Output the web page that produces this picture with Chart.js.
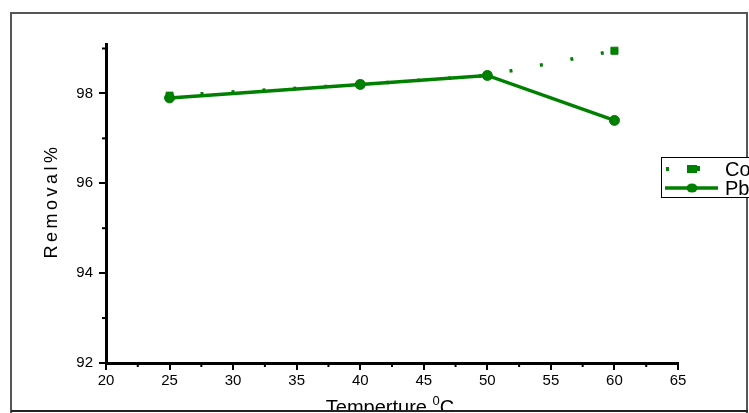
<!DOCTYPE html>
<html>
<head>
<meta charset="utf-8">
<script src="https://cdn.jsdelivr.net/npm/chart.js@4.4.1/dist/chart.umd.min.js"></script>
<style>
  html, body { margin: 0; padding: 0; background: #fff; }
  canvas { display: block; }
</style>
</head>
<body>
<canvas id="chart" width="749" height="413"></canvas>
<script>
// removal % against temperature
var temps = [25, 40, 50, 60];
var coRemoval = [97.95, 98.2, 98.4, 98.95];
var pbRemoval = [97.9, 98.2, 98.4, 97.4];
var xTicks = [20, 25, 30, 35, 40, 45, 50, 55, 60, 65];
var yTicks = [92, 94, 96, 98];
var xMinor = [22.5, 27.5, 32.5, 37.5, 42.5, 47.5, 52.5, 57.5, 62.5];
var yMinor = [93, 95, 97, 99];

var green = "#008000";
var fontFam = "'Liberation Sans', Arial, sans-serif";
var ctx = document.getElementById("chart");

function toPoints(ys)
{
    return temps.map(function(t, i) { return {x: t, y: ys[i]}; });
}

// axis titles, minor ticks, frame and legend
var extras = {
    id: 'extras',
    afterDraw: function(chart)
    {
        var c = chart.ctx;
        var xs = chart.scales.x, ys = chart.scales.y;
        var area = chart.chartArea;
        c.save();

        c.strokeStyle = "#000";
        c.lineWidth = 2;
        xMinor.forEach(function(v) {
            var px = xs.getPixelForValue(v);
            c.beginPath(); c.moveTo(px, area.bottom); c.lineTo(px, area.bottom + 4); c.stroke();
        });
        yMinor.forEach(function(v) {
            var py = ys.getPixelForValue(v);
            c.beginPath(); c.moveTo(area.left, py); c.lineTo(area.left - 4, py); c.stroke();
        });

        // y title
        c.fillStyle = "#000";
        c.font = "18px " + fontFam;
        c.translate(57, 201);
        c.rotate(-Math.PI / 2);
        c.letterSpacing = "3.5px";
        c.textAlign = "center";
        c.textBaseline = "alphabetic";
        c.fillText("Removal%", 0, 0);
        c.setTransform(1, 0, 0, 1, 0, 0);
        c.letterSpacing = "0px";

        // x title with superscript
        c.textAlign = "left";
        c.font = "20px " + fontFam;
        var t1 = "Temperture ";
        var w1 = c.measureText(t1).width;
        c.font = "13px " + fontFam;
        var w2 = c.measureText("0").width;
        c.font = "20px " + fontFam;
        var w3 = c.measureText("C").width;
        var x0 = 390 - (w1 + w2 + w3) / 2;
        c.fillText(t1, x0, 414);
        c.font = "13px " + fontFam;
        c.fillText("0", x0 + w1, 405);
        c.font = "20px " + fontFam;
        c.fillText("C", x0 + w1 + w2, 414);

        // outer frame
        c.fillStyle = "#fff";
        c.fillRect(0, 412, 749, 2);
        c.strokeStyle = "#555";
        c.lineWidth = 2;
        c.beginPath();
        c.moveTo(11, 413); c.lineTo(11, 13); c.lineTo(747, 13); c.lineTo(747, 413);
        c.stroke();
        c.strokeStyle = "#222";
        c.beginPath(); c.moveTo(11, 411); c.lineTo(748, 411); c.stroke();

        // legend
        c.fillStyle = "#fff";
        c.fillRect(661, 157, 90, 41);
        c.strokeStyle = "#000";
        c.lineWidth = 1;
        c.strokeRect(661.5, 157.5, 95, 40);

        c.fillStyle = green;
        c.fillRect(666, 167, 3, 4);
        c.fillRect(687, 165, 10, 8);
        c.fillRect(697, 166, 3, 5);

        c.strokeStyle = green;
        c.lineWidth = 3.5;
        c.beginPath(); c.moveTo(665, 188); c.lineTo(718, 188); c.stroke();
        c.beginPath(); c.ellipse(692, 188, 5.5, 4.5, 0, 0, Math.PI * 2); c.fill();

        c.fillStyle = "#000";
        c.font = "20px " + fontFam;
        c.textBaseline = "middle";
        c.fillText("Co", 725, 170);
        c.fillText("Pb", 725, 189);

        c.restore();
    }
};

var myChart = new Chart(ctx, {
    type: 'line',
    data: {
        datasets: [
            {
                label: "Co",
                data: toPoints(coRemoval),
                borderColor: green,
                backgroundColor: green,
                borderWidth: 3.5,
                borderDash: [3, 28],
                borderCapStyle: 'butt',
                pointStyle: 'rect',
                pointRadius: 5,
                pointBorderWidth: 1,
                fill: false,
                tension: 0
            },
            {
                label: "Pb",
                data: toPoints(pbRemoval),
                borderColor: green,
                backgroundColor: green,
                borderWidth: 3.5,
                pointStyle: 'circle',
                pointRadius: 5,
                pointBorderWidth: 1,
                fill: false,
                tension: 0
            }
        ]
    },
    options: {
        responsive: false,
        animation: false,
        layout: { padding: { left: 0, top: 44, right: 71, bottom: 0 } },
        plugins: { legend: { display: false }, tooltip: { enabled: false } },
        scales: {
            x: {
                type: 'linear',
                min: 20,
                max: 65,
                afterFit: function(s) { s.height = 50; },
                afterBuildTicks: function(s) { s.ticks = xTicks.map(function(v) { return {value: v}; }); },
                border: { display: true, color: "#000", width: 3 },
                grid: { drawOnChartArea: false, drawTicks: true, tickLength: 7, color: "#000", lineWidth: 2 },
                ticks: { color: "#000", padding: 2, font: { family: fontFam, size: 15 }, maxRotation: 0 }
            },
            y: {
                min: 92,
                max: 99.1,
                afterFit: function(s) { s.width = 106; },
                afterBuildTicks: function(s) { s.ticks = yTicks.map(function(v) { return {value: v}; }); },
                border: { display: true, color: "#000", width: 3 },
                grid: { drawOnChartArea: false, drawTicks: true, tickLength: 7, color: "#000", lineWidth: 2 },
                ticks: { color: "#000", padding: 6, font: { family: fontFam, size: 15 } }
            }
        }
    },
    plugins: [extras]
});
</script>
</body>
</html>
